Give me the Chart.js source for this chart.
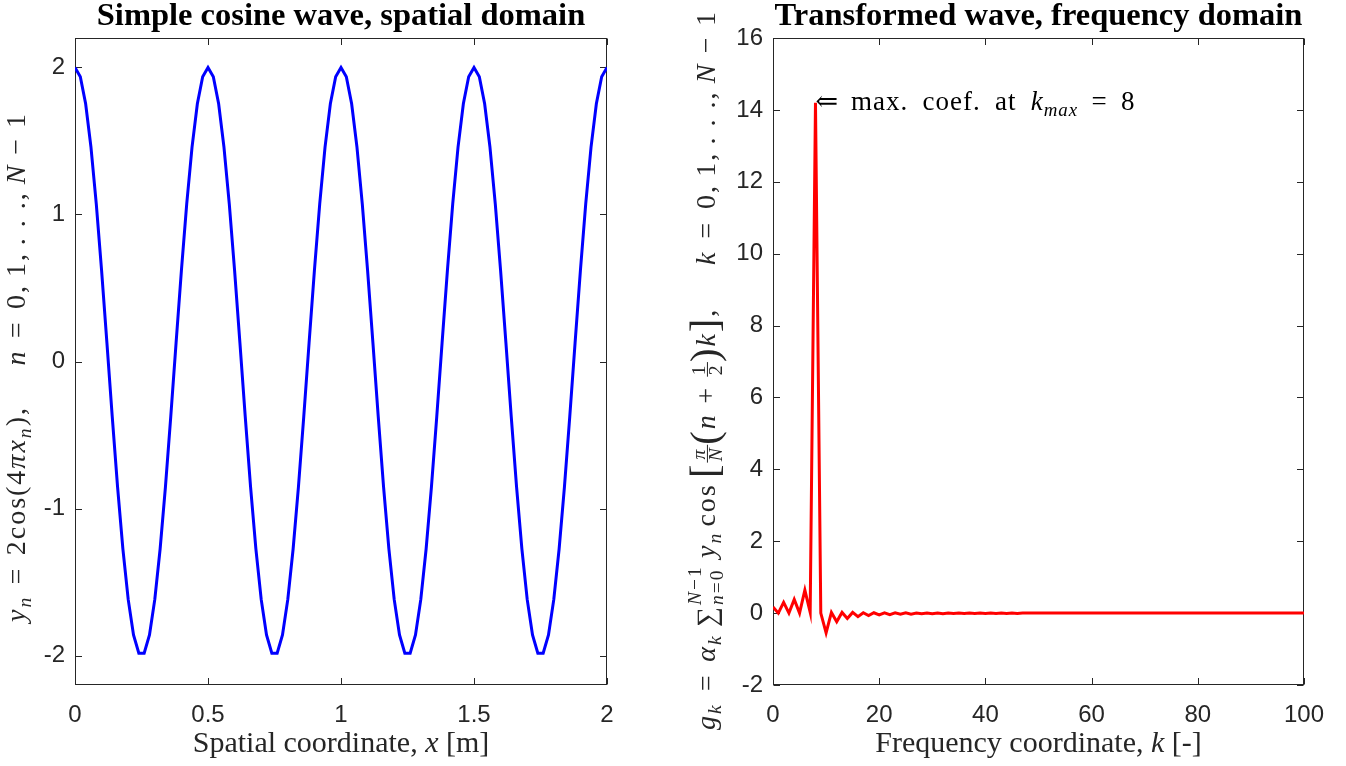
<!DOCTYPE html>
<html>
<head>
<meta charset="utf-8">
<script src="https://cdn.jsdelivr.net/npm/chart.js@4.4.0/dist/chart.umd.min.js"></script>
<style>
  html, body { margin: 0; padding: 0; background: #fff; }
  #wrap { position: relative; width: 1346px; height: 766px; overflow: hidden; }
  canvas { position: absolute; top: 0; }
  #spatial { left: 0; }
  #freq { left: 673px; }
</style>
</head>
<body>
<div id="wrap">
  <canvas id="spatial" width="673" height="766"></canvas>
  <canvas id="freq" width="673" height="766"></canvas>
</div>
<script>
// sample positions x_n (m) and signal y_n = 2cos(4*pi*x_n), n = 0..100
const xPos = [
  0.00, 0.02, 0.04, 0.06, 0.08, 0.10, 0.12, 0.14, 0.16, 0.18,
  0.20, 0.22, 0.24, 0.26, 0.28, 0.30, 0.32, 0.34, 0.36, 0.38,
  0.40, 0.42, 0.44, 0.46, 0.48, 0.50, 0.52, 0.54, 0.56, 0.58,
  0.60, 0.62, 0.64, 0.66, 0.68, 0.70, 0.72, 0.74, 0.76, 0.78,
  0.80, 0.82, 0.84, 0.86, 0.88, 0.90, 0.92, 0.94, 0.96, 0.98,
  1.00, 1.02, 1.04, 1.06, 1.08, 1.10, 1.12, 1.14, 1.16, 1.18,
  1.20, 1.22, 1.24, 1.26, 1.28, 1.30, 1.32, 1.34, 1.36, 1.38,
  1.40, 1.42, 1.44, 1.46, 1.48, 1.50, 1.52, 1.54, 1.56, 1.58,
  1.60, 1.62, 1.64, 1.66, 1.68, 1.70, 1.72, 1.74, 1.76, 1.78,
  1.80, 1.82, 1.84, 1.86, 1.88, 1.90, 1.92, 1.94, 1.96, 1.98,
  2.00
];
const yVals = [
  2.000, 1.937, 1.753, 1.458, 1.072, 0.618, 0.126, -0.375, -0.852, -1.275,
  -1.618, -1.860, -1.984, -1.984, -1.860, -1.618, -1.275, -0.852, -0.375, 0.126,
  0.618, 1.072, 1.458, 1.753, 1.937, 2.000, 1.937, 1.753, 1.458, 1.072,
  0.618, 0.126, -0.375, -0.852, -1.275, -1.618, -1.860, -1.984, -1.984, -1.860,
  -1.618, -1.275, -0.852, -0.375, 0.126, 0.618, 1.072, 1.458, 1.753, 1.937,
  2.000, 1.937, 1.753, 1.458, 1.072, 0.618, 0.126, -0.375, -0.852, -1.275,
  -1.618, -1.860, -1.984, -1.984, -1.860, -1.618, -1.275, -0.852, -0.375, 0.126,
  0.618, 1.072, 1.458, 1.753, 1.937, 2.000, 1.937, 1.753, 1.458, 1.072,
  0.618, 0.126, -0.375, -0.852, -1.275, -1.618, -1.860, -1.984, -1.984, -1.860,
  -1.618, -1.275, -0.852, -0.375, 0.126, 0.618, 1.072, 1.458, 1.753, 1.937,
  2.000
];
const xTicksSpatial = [0, 0.5, 1, 1.5, 2];
const yTicksSpatial = [-2, -1, 0, 1, 2];

// DCT coefficients g_k, k = 0..100
const coefs = [
  0.17, 0.00, 0.30, 0.00, 0.38, 0.00, 0.64, 0.02, 14.20, 0.00,
  -0.55, 0.02, -0.24, 0.02, -0.15, 0.02, -0.10, 0.01, -0.07, 0.01,
  -0.05, 0.01, -0.04, 0.01, -0.03, 0.01, -0.03, 0.00, -0.02, 0.00,
  -0.02, 0.00, -0.02, 0.00, -0.01, 0.00, -0.01, 0.00, -0.01, 0.00,
  -0.01, 0.00, -0.01, 0.00, -0.01, 0.00, -0.01, 0.00, 0.00, 0.00,
  0.00, 0.00, 0.00, 0.00, 0.00, 0.00, 0.00, 0.00, 0.00, 0.00,
  0.00, 0.00, 0.00, 0.00, 0.00, 0.00, 0.00, 0.00, 0.00, 0.00,
  0.00, 0.00, 0.00, 0.00, 0.00, 0.00, 0.00, 0.00, 0.00, 0.00,
  0.00, 0.00, 0.00, 0.00, 0.00, 0.00, 0.00, 0.00, 0.00, 0.00,
  0.00, 0.00, 0.00, 0.00, 0.00, 0.00, 0.00, 0.00, 0.00, 0.00,
  0.00
];
const kTicks = [0, 20, 40, 60, 80, 100];
const gTicks = [-2, 0, 2, 4, 6, 8, 10, 12, 14, 16];

const SERIF = '"Liberation Serif", "DejaVu Serif", serif';
const SANS = '"Liberation Sans", Arial, sans-serif';
const INK = '#262626';
const TICK_LEN = 6.5;

// --- tiny rich-text layout: italic runs, sub/superscripts, stacked limits, fractions
function segFont(g, size) {
  return (g.it ? 'italic ' : '') + (g.b ? 'bold ' : '') + size + 'px ' + SERIF;
}

// lays out a run left to right from (x, y); gaps are in em and scaled by gs
function layRun(ctx, run, x, y, size, draw, gs = 1) {
  let cx = x;
  for (const g of run) {
    if (g.gap !== undefined) { cx += g.gap * size * gs; continue; }
    const sz = size * (g.s || 1);
    if (g.stack || g.frac) {
      const [top, bot] = g.stack || g.frac;
      const wt = layRun(ctx, top, 0, 0, sz, false);
      const wb = layRun(ctx, bot, 0, 0, sz, false);
      const w = Math.max(wt, wb) + (g.frac ? 0.1 * size : 0);
      if (draw) {
        if (g.stack) {
          layRun(ctx, top, cx, y - 0.5 * size, sz, true);
          layRun(ctx, bot, cx, y + 0.3 * size, sz, true);
        } else {
          const bar = y - 0.27 * size;
          layRun(ctx, top, cx + (w - wt) / 2, bar - 0.1 * size, sz, true);
          layRun(ctx, bot, cx + (w - wb) / 2, bar + 0.52 * size, sz, true);
          ctx.fillRect(cx, bar - 0.5, w, 1);
        }
      }
      cx += w;
    } else {
      ctx.font = segFont(g, sz);
      if (draw) ctx.fillText(g.t, cx, y + (g.dy || 0) * size);
      cx += ctx.measureText(g.t).width;
    }
  }
  return cx - x;
}

// math-style run stretched through its spacing to a given length
function fitGaps(ctx, run, size, target) {
  if (!target) return 1;
  const w0 = layRun(ctx, run, 0, 0, size, false, 0);
  const w1 = layRun(ctx, run, 0, 0, size, false, 1);
  return w1 > w0 ? Math.max(1, (target - w0) / (w1 - w0)) : 1;
}

function drawCentered(ctx, run, x, y, size, target) {
  const gs = fitGaps(ctx, run, size, target);
  const w = layRun(ctx, run, 0, 0, size, false, gs);
  layRun(ctx, run, x - w / 2, y, size, true, gs);
}

const sub = (t) => ({ t, it: 1, s: 0.7, dy: 0.22 });
const EQ = [{ gap: 0.28 }, { t: '=' }, { gap: 0.28 }];
const INDEX_RANGE = (v) => [
  { t: v, it: 1 }, ...EQ, { t: '0,' }, { gap: 0.17 }, { t: '1,' }, { gap: 0.17 },
  { t: '. . .' }, { t: ',' }, { gap: 0.17 }, { t: 'N', it: 1 },
  { gap: 0.22 }, { t: '−' }, { gap: 0.22 }, { t: '1' }
];

// axes box with inward tick marks on all four sides
const axesBox = {
  id: 'axesBox',
  beforeDatasetsDraw(chart) {
    const { ctx, chartArea: a, scales: { x, y } } = chart;
    const L = Math.round(a.left) + 0.5, R = Math.round(a.right) - 0.5;
    const T = Math.round(a.top) + 0.5, B = Math.round(a.bottom) - 0.5;
    ctx.save();
    ctx.strokeStyle = INK;
    ctx.lineWidth = 1;
    ctx.strokeRect(L, T, R - L, B - T);
    ctx.beginPath();
    x.ticks.forEach(t => {
      const px = Math.round(x.getPixelForValue(t.value)) + 0.5;
      ctx.moveTo(px, B); ctx.lineTo(px, B - TICK_LEN);
      ctx.moveTo(px, T); ctx.lineTo(px, T + TICK_LEN);
    });
    y.ticks.forEach(t => {
      const py = Math.round(y.getPixelForValue(t.value)) + 0.5;
      ctx.moveTo(L, py); ctx.lineTo(L + TICK_LEN, py);
      ctx.moveTo(R, py); ctx.lineTo(R - TICK_LEN, py);
    });
    ctx.stroke();
    ctx.restore();
  }
};

// title, x label and rotated y label
function axisText(cfg) {
  return {
    id: 'axisText',
    afterDraw(chart) {
      const { ctx, chartArea: a } = chart;
      const cx = (a.left + a.right) / 2;
      ctx.save();
      ctx.textAlign = 'left';
      ctx.textBaseline = 'alphabetic';
      ctx.fillStyle = '#000';
      drawCentered(ctx, cfg.title, cx, 25, 32.5);
      ctx.fillStyle = INK;
      drawCentered(ctx, cfg.xLabel, cx, 752, 30);
      ctx.translate(cfg.yLabelX, (a.top + a.bottom) / 2 + cfg.yShift);
      ctx.rotate(-Math.PI / 2);
      ctx.letterSpacing = '2px';
      drawCentered(ctx, cfg.yLabel, 0, 0, 28, cfg.yLength);
      ctx.restore();
    }
  };
}

// arrow note at the largest coefficient
const peakNote = {
  id: 'peakNote',
  afterDatasetsDraw(chart) {
    const { ctx, scales: { x, y } } = chart;
    const gMax = Math.max(...coefs);
    const kMax = coefs.indexOf(gMax);
    const px = x.getPixelForValue(kMax), py = y.getPixelForValue(gMax);
    const note = [
      { t: '⇐' }, { gap: 0.25 }, { t: 'max.' }, { gap: 0.3 }, { t: 'coef.' }, { gap: 0.3 },
      { t: 'at' }, { gap: 0.3 }, { t: 'k', it: 1 }, sub('max'), ...EQ, { t: String(kMax) }
    ];
    ctx.save();
    ctx.fillStyle = '#000';
    ctx.textBaseline = 'alphabetic';
    ctx.letterSpacing = '1px';
    const gs = fitGaps(ctx, note, 27, 320);
    layRun(ctx, note, px, py + 7, 27, true, gs);
    ctx.restore();
  }
};

function axisScale(list, min, max, fit, padding) {
  return {
    type: 'linear',
    min: min,
    max: max,
    afterBuildTicks: s => { s.ticks = list.map(v => ({ value: v })); },
    afterFit: fit,
    grid: { display: false, drawTicks: false },
    border: { display: false },
    ticks: {
      font: { family: SANS, size: 24 },
      color: INK,
      padding: padding,
      autoSkip: false,
      maxRotation: 0,
      callback: v => String(v)
    }
  };
}

const baseOptions = (padRight) => ({
  responsive: false,
  animation: false,
  layout: { padding: { top: 38, right: padRight, left: 0, bottom: 0 } },
  plugins: { legend: { display: false }, tooltip: { enabled: false } },
  elements: { point: { radius: 0 } }
});

/**
 * Spatial domain: the sampled cosine
 */
new Chart(document.getElementById('spatial'), {
  type: 'line',
  data: {
    datasets: [{
      data: xPos.map((x, i) => ({ x: x, y: yVals[i] })),
      borderColor: '#0000ff',
      borderWidth: 3,
      pointRadius: 0,
      tension: 0,
      fill: false
    }]
  },
  options: {
    ...baseOptions(66),
    scales: {
      x: axisScale(xTicksSpatial, 0, 2, s => { s.height = 81; }, 16),
      y: axisScale(yTicksSpatial, -2.2, 2.2, s => { s.width = 75; }, 10)
    }
  },
  plugins: [axesBox, axisText({
    title: [{ t: 'Simple cosine wave, spatial domain', b: 1 }],
    xLabel: [{ t: 'Spatial coordinate, ' }, { t: 'x', it: 1 }, { t: ' [m]' }],
    yLabel: [
      { t: 'y', it: 1 }, sub('n'), ...EQ,
      { t: '2cos(4' }, { t: 'π', it: 1 }, { t: 'x', it: 1 }, sub('n'), { t: '),' },
      { gap: 1.0 }, ...INDEX_RANGE('n')
    ],
    yLabelX: 25,
    yShift: 5.5,
    yLength: 510
  })]
});

/**
 * Frequency domain: DCT coefficients
 */
new Chart(document.getElementById('freq'), {
  type: 'line',
  data: {
    datasets: [{
      data: coefs.map((g, k) => ({ x: k, y: g })),
      borderColor: '#ff0000',
      borderWidth: 3,
      pointRadius: 0,
      tension: 0,
      fill: false
    }]
  },
  options: {
    ...baseOptions(42),
    scales: {
      x: axisScale(kTicks, 0, 100, s => { s.height = 81; }, 16),
      y: axisScale(gTicks, -2, 16, s => { s.width = 100; }, 10)
    }
  },
  plugins: [axesBox, peakNote, axisText({
    title: [{ t: 'Transformed wave, frequency domain', b: 1 }],
    xLabel: [{ t: 'Frequency coordinate, ' }, { t: 'k', it: 1 }, { t: ' [-]' }],
    yLabel: [
      { t: 'g', it: 1 }, sub('k'), ...EQ,
      { t: 'α', it: 1 }, sub('k'), { gap: 0.17 },
      { t: '∑', dy: 0.05 },
      { stack: [[{ t: 'N', it: 1 }, { t: '−1' }], [{ t: 'n', it: 1 }, { t: '=0' }]], s: 0.7 },
      { gap: 0.17 }, { t: 'y', it: 1 }, sub('n'), { gap: 0.12 }, { t: 'cos' }, { gap: 0.12 },
      { t: '[', s: 1.45, dy: 0.12 },
      { frac: [[{ t: 'π', it: 1 }], [{ t: 'N', it: 1 }]], s: 0.7 },
      { t: '(', s: 1.45, dy: 0.12 }, { t: 'n', it: 1 }, { gap: 0.22 }, { t: '+' }, { gap: 0.22 },
      { frac: [[{ t: '1' }], [{ t: '2' }]], s: 0.7 },
      { t: ')', s: 1.45, dy: 0.12 }, { t: 'k', it: 1 }, { t: ']', s: 1.45, dy: 0.12 }, { t: ',' },
      { gap: 1.0 }, ...INDEX_RANGE('k')
    ],
    yLabelX: 42,
    yShift: 8.5,
    yLength: 720
  })]
});
</script>
</body>
</html>
